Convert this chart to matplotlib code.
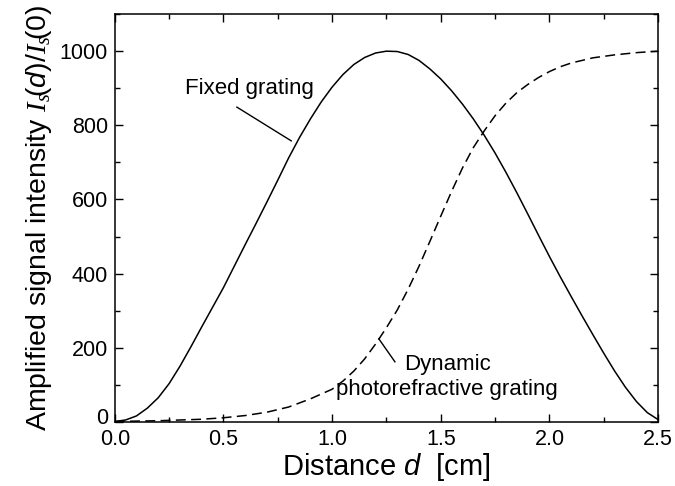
import matplotlib
matplotlib.use("Agg")
import matplotlib.pyplot as plt
from matplotlib.ticker import MultipleLocator
from matplotlib.transforms import ScaledTranslation

plt.rcParams['font.family'] = ['Liberation Sans', 'DejaVu Sans']
plt.rcParams['mathtext.fontset'] = 'custom'
plt.rcParams['mathtext.rm'] = 'Liberation Sans'
plt.rcParams['mathtext.it'] = 'Liberation Sans:italic'
plt.rcParams['mathtext.bf'] = 'Liberation Serif:italic'

# Fixed grating (solid)
d_fixed = [0.00, 0.05, 0.10, 0.15, 0.20, 0.25, 0.30, 0.35, 0.40, 0.45, 0.50,
           0.55, 0.60, 0.65, 0.70, 0.75, 0.80, 0.85, 0.90, 0.95, 1.00,
           1.05, 1.10, 1.15, 1.20, 1.25, 1.30, 1.35, 1.40, 1.45, 1.50,
           1.55, 1.60, 1.65, 1.70, 1.75, 1.80, 1.85, 1.90, 1.95, 2.00,
           2.05, 2.10, 2.15, 2.20, 2.25, 2.30, 2.35, 2.40, 2.45, 2.50]
i_fixed = [1, 5, 16, 37, 65, 103, 150, 202, 256, 309, 362,
           420, 478, 535, 593, 652, 712, 767, 817, 863, 903,
           937, 964, 983, 995, 1000, 999, 991, 975, 952, 925,
           893, 857, 817, 773, 725, 673, 618, 561, 503, 446,
           391, 338, 286, 235, 185, 137, 93, 55, 25, 6]

# Dynamic photorefractive grating (dashed)
d_dyn = [0.0, 0.1, 0.2, 0.3, 0.4, 0.5, 0.6, 0.7, 0.8, 0.9, 1.0,
         1.05, 1.1, 1.15, 1.2, 1.25, 1.3, 1.35, 1.4, 1.45, 1.5,
         1.55, 1.6, 1.65, 1.7, 1.75, 1.8, 1.85, 1.9, 1.95, 2.0,
         2.05, 2.1, 2.2, 2.3, 2.4, 2.5]
i_dyn = [1, 2, 3, 5, 7, 11, 17, 26, 40, 62, 88,
         110, 137, 170, 210, 254, 302, 358, 420, 487, 555,
         622, 685, 740, 785, 826, 860, 888, 910, 929, 945,
         958, 968, 982, 990, 996, 1000]

x_ticks = [0.0, 0.5, 1.0, 1.5, 2.0, 2.5]
x_tick_labels = ['0.0', '0.5', '1.0', '1.5', '2.0', '2.5']
y_ticks = [0, 200, 400, 600, 800, 1000]

fig = plt.figure(figsize=(6.75, 4.86), dpi=100)
ax = fig.add_axes([0.170, 0.132, 0.805, 0.839])

ax.plot(d_fixed, i_fixed, color='black', lw=1.1, solid_joinstyle='round')
ax.plot(d_dyn, i_dyn, color='black', lw=1.1, dashes=(6.5, 3.5))

ax.set_xlim(0, 2.5)
ax.set_ylim(0, 1100)
ax.set_xticks(x_ticks)
ax.set_xticklabels(x_tick_labels)
ax.set_yticks(y_ticks)
ax.xaxis.set_minor_locator(MultipleLocator(0.25))
ax.yaxis.set_minor_locator(MultipleLocator(100))
ax.tick_params(which='both', direction='in', top=True, right=True,
               width=1.0, labelsize=15.5)
ax.tick_params(which='major', length=6)
ax.tick_params(which='minor', length=3.5)
ax.tick_params(axis='x', pad=5)
ax.tick_params(axis='y', pad=5)
for s in ax.spines.values():
    s.set_linewidth(1.1)

# lift the "0" y tick label slightly so it clears "0.0"
zero_lbl = ax.yaxis.get_major_ticks()[0].label1
zero_lbl.set_transform(zero_lbl.get_transform() +
                       ScaledTranslation(0, 4 / 72, fig.dpi_scale_trans))

ax.set_xlabel(r'Distance $d$  [cm]', fontsize=21, labelpad=1)
ax.set_ylabel(r'Amplified signal intensity $\mathbf{I}_{\mathbf{s}}\!(d)/\mathbf{I}_{\mathbf{s}}\!(0)$',
              fontsize=20.5, labelpad=4)

ax.text(0.322, 898, 'Fixed grating', fontsize=16, ha='left', va='center')
ax.plot([0.562, 0.812], [849, 758], color='black', lw=1.0)

ax.text(1.529, 121, 'Dynamic\nphotorefractive grating', fontsize=16,
        ha='center', va='center', multialignment='center', linespacing=1.25)
ax.plot([1.215, 1.289], [224, 162], color='black', lw=1.0)

fig.savefig('out.png', dpi=100)
